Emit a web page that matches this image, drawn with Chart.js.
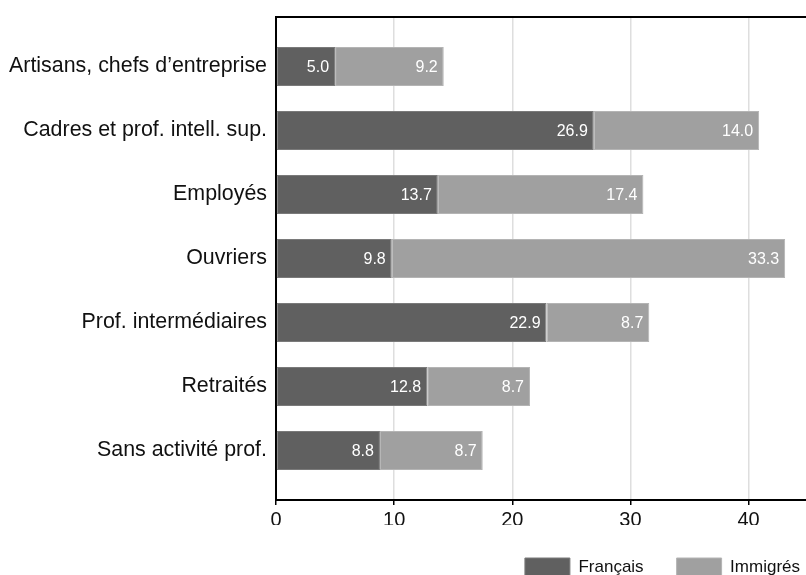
<!DOCTYPE html>
<html>
<head>
<meta charset="utf-8">
<script src="https://cdn.jsdelivr.net/npm/chart.js@4/dist/chart.umd.min.js"></script>
<style>
  html, body { margin: 0; padding: 0; background: #fff; overflow: hidden; }
  #wrap { width: 806px; height: 575px; overflow: hidden; position: relative; }
  canvas { display: block; }
</style>
</head>
<body>
<div id="wrap"><canvas id="c" width="833" height="586"></canvas></div>
<script>
const categories = [
  "Artisans, chefs d\u2019entreprise",
  "Cadres et prof. intell. sup.",
  "Employés",
  "Ouvriers",
  "Prof. intermédiaires",
  "Retraités",
  "Sans activité prof."
];
const seriesNames = ["Français", "Immigrés"];
const francais = [5.0, 26.9, 13.7, 9.8, 22.9, 12.8, 8.8];
const immigres = [9.2, 14.0, 17.4, 33.3, 8.7, 8.7, 8.7];
const xTicks = [0, 10, 20, 30, 40];

const FONT = '"Liberation Sans", Arial, Helvetica, sans-serif';

const valueLabels = {
  id: 'valueLabels',
  afterDatasetsDraw(chart) {
    const ctx = chart.ctx;
    ctx.save();
    ctx.font = '16px ' + FONT;
    ctx.fillStyle = '#ffffff';
    ctx.textAlign = 'right';
    ctx.textBaseline = 'middle';
    chart.data.datasets.forEach((ds, di) => {
      const meta = chart.getDatasetMeta(di);
      meta.data.forEach((el, i) => {
        const v = ds.data[i].x;
        ctx.fillText(v.toFixed(1), el.x - 6, el.y + 1);
      });
    });
    ctx.restore();
  }
};

const topBorder = {
  id: 'topBorder',
  afterDraw(chart) {
    const a = chart.chartArea;
    const ctx = chart.ctx;
    ctx.save();
    ctx.strokeStyle = '#000';
    ctx.lineWidth = 2;
    ctx.beginPath();
    ctx.moveTo(a.left - 1, a.top);
    ctx.lineTo(a.right, a.top);
    ctx.stroke();
    ctx.restore();
  }
};

new Chart(document.getElementById('c'), {
  type: 'bar',
  data: {
    datasets: [
      {
        label: seriesNames[0],
        data: francais.map((v, i) => ({ x: v, y: i })),
        backgroundColor: '#606060',
        borderColor: '#7a7a7a',
        borderWidth: 1,
        borderSkipped: false,
        categoryPercentage: 1,
        barPercentage: 0.61
      },
      {
        label: seriesNames[1],
        data: immigres.map((v, i) => ({ x: v, y: i })),
        backgroundColor: '#a0a0a0',
        borderColor: '#b4b4b4',
        borderWidth: 1,
        borderSkipped: false,
        categoryPercentage: 1,
        barPercentage: 0.61
      }
    ]
  },
  options: {
    indexAxis: 'y',
    responsive: false,
    devicePixelRatio: 1,
    animation: false,
    layout: { padding: { top: 17, left: 0, right: 0, bottom: 0 } },
    plugins: {
      legend: {
        position: 'bottom',
        align: 'end',
        labels: {
          boxWidth: 45,
          boxHeight: 18,
          padding: 33,
          color: '#111',
          font: { family: FONT, size: 17 }
        }
      },
      tooltip: { enabled: false }
    },
    scales: {
      x: {
        type: 'linear',
        stacked: true,
        min: 0,
        max: 47.15,
        offset: false,
        afterBuildTicks(scale) { scale.ticks = xTicks.map(v => ({ value: v })); },
        afterFit(scale) { scale.height = 25; scale.paddingLeft = 0; scale.paddingRight = 0; },
        ticks: {
          color: '#111',
          padding: 3,
          font: { family: FONT, size: 20 },
          maxRotation: 0,
          includeBounds: false
        },
        grid: {
          color: '#dedede',
          lineWidth: 1.5,
          tickColor: '#000',
          tickLength: 5,
          tickWidth: 1.5,
          offset: false
        },
        border: { display: true, color: '#000', width: 2 }
      },
      y: {
        type: 'linear',
        stacked: true,
        reverse: true,
        offset: false,
        min: -0.773,
        max: 6.773,
        afterBuildTicks(scale) { scale.ticks = categories.map((c, i) => ({ value: i })); },
        afterFit(scale) { scale.width = 276; scale.paddingTop = 0; scale.paddingBottom = 0; },
        ticks: {
          color: '#111',
          padding: 9,
          font: { family: FONT, size: 21.4 },
          callback: (v) => categories[v]
        },
        grid: { display: false, drawTicks: false, offset: false },
        border: { display: true, color: '#000', width: 2 }
      }
    }
  },
  plugins: [valueLabels, topBorder]
});
</script>
</body>
</html>
